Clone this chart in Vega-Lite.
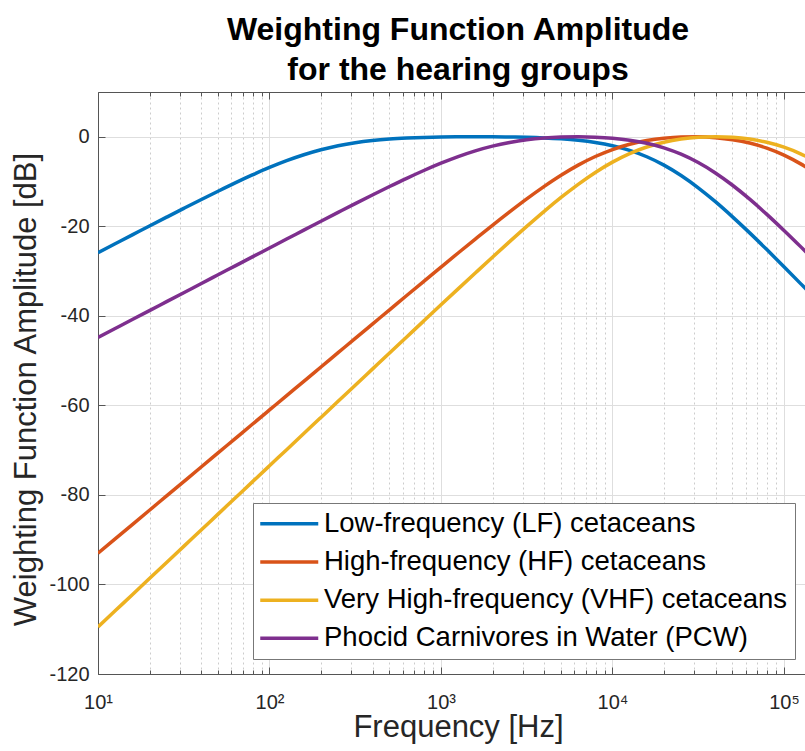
{
  "$schema": "https://vega.github.io/schema/vega-lite/v6.json",
  "width": 707,
  "height": 582,
  "autosize": {"type": "none"},
  "padding": {"left": 98, "top": 92, "right": 0, "bottom": 77},
  "background": "white",
  "title": {
    "text": ["Weighting Function Amplitude", "for the hearing groups"],
    "font": "Liberation Sans",
    "fontSize": 32,
    "fontWeight": "bold",
    "color": "#000000",
    "lineHeight": 40,
    "anchor": "middle",
    "frame": "group",
    "dx": 6.5,
    "dy": 33,
    "baseline": "bottom",
    "offset": 6
  },
  "data": {
    "values": [
      {"f": 10, "LF": -25.90, "HF": -93.02, "VHF": -109.49, "PCW": -44.83},
      {"f": 12.589, "LF": -23.91, "HF": -89.82, "VHF": -105.89, "PCW": -42.83},
      {"f": 15.849, "LF": -21.92, "HF": -86.62, "VHF": -102.29, "PCW": -40.83},
      {"f": 19.953, "LF": -19.93, "HF": -83.42, "VHF": -98.69, "PCW": -38.83},
      {"f": 25.119, "LF": -17.96, "HF": -80.22, "VHF": -95.09, "PCW": -36.83},
      {"f": 31.623, "LF": -16.00, "HF": -77.02, "VHF": -91.49, "PCW": -34.83},
      {"f": 39.811, "LF": -14.06, "HF": -73.82, "VHF": -87.89, "PCW": -32.83},
      {"f": 50.119, "LF": -12.16, "HF": -70.62, "VHF": -84.29, "PCW": -30.83},
      {"f": 63.096, "LF": -10.30, "HF": -67.42, "VHF": -80.69, "PCW": -28.83},
      {"f": 79.433, "LF": -8.53, "HF": -64.22, "VHF": -77.09, "PCW": -26.83},
      {"f": 100, "LF": -6.86, "HF": -61.02, "VHF": -73.49, "PCW": -24.84},
      {"f": 125.89, "LF": -5.34, "HF": -57.82, "VHF": -69.89, "PCW": -22.84},
      {"f": 158.49, "LF": -4.01, "HF": -54.63, "VHF": -66.29, "PCW": -20.86},
      {"f": 199.53, "LF": -2.89, "HF": -51.43, "VHF": -62.69, "PCW": -18.87},
      {"f": 251.19, "LF": -2.00, "HF": -48.23, "VHF": -59.09, "PCW": -16.90},
      {"f": 316.23, "LF": -1.33, "HF": -45.03, "VHF": -55.50, "PCW": -14.94},
      {"f": 398.11, "LF": -0.85, "HF": -41.84, "VHF": -51.90, "PCW": -13.01},
      {"f": 501.19, "LF": -0.52, "HF": -38.65, "VHF": -48.30, "PCW": -11.12},
      {"f": 630.96, "LF": -0.30, "HF": -35.46, "VHF": -44.71, "PCW": -9.28},
      {"f": 794.33, "LF": -0.15, "HF": -32.28, "VHF": -41.12, "PCW": -7.53},
      {"f": 1000, "LF": -0.06, "HF": -29.11, "VHF": -37.54, "PCW": -5.90},
      {"f": 1258.9, "LF": -0.02, "HF": -25.96, "VHF": -33.98, "PCW": -4.42},
      {"f": 1584.9, "LF": 0.00, "HF": -22.85, "VHF": -30.43, "PCW": -3.14},
      {"f": 1995.3, "LF": -0.01, "HF": -19.77, "VHF": -26.90, "PCW": -2.09},
      {"f": 2511.9, "LF": -0.05, "HF": -16.77, "VHF": -23.43, "PCW": -1.28},
      {"f": 3162.3, "LF": -0.12, "HF": -13.87, "VHF": -20.02, "PCW": -0.68},
      {"f": 3981.1, "LF": -0.25, "HF": -11.13, "VHF": -16.71, "PCW": -0.29},
      {"f": 5011.9, "LF": -0.46, "HF": -8.59, "VHF": -13.56, "PCW": -0.07},
      {"f": 6309.6, "LF": -0.78, "HF": -6.33, "VHF": -10.62, "PCW": 0.00},
      {"f": 7943.3, "LF": -1.27, "HF": -4.41, "VHF": -7.96, "PCW": -0.08},
      {"f": 10000, "LF": -2.00, "HF": -2.86, "VHF": -5.66, "PCW": -0.32},
      {"f": 12589, "LF": -3.03, "HF": -1.68, "VHF": -3.76, "PCW": -0.76},
      {"f": 15849, "LF": -4.46, "HF": -0.85, "VHF": -2.29, "PCW": -1.45},
      {"f": 19953, "LF": -6.33, "HF": -0.32, "VHF": -1.23, "PCW": -2.47},
      {"f": 25119, "LF": -8.65, "HF": -0.05, "VHF": -0.52, "PCW": -3.89},
      {"f": 31623, "LF": -11.40, "HF": -0.01, "VHF": -0.12, "PCW": -5.76},
      {"f": 39811, "LF": -14.50, "HF": -0.20, "VHF": 0.00, "PCW": -8.08},
      {"f": 50119, "LF": -17.89, "HF": -0.65, "VHF": -0.12, "PCW": -10.83},
      {"f": 63096, "LF": -21.47, "HF": -1.40, "VHF": -0.52, "PCW": -13.94},
      {"f": 79433, "LF": -25.20, "HF": -2.53, "VHF": -1.24, "PCW": -17.33},
      {"f": 100000, "LF": -29.03, "HF": -4.09, "VHF": -2.33, "PCW": -20.92},
      {"f": 125893, "LF": -32.92, "HF": -6.11, "VHF": -3.86, "PCW": -24.65},
      {"f": 158489, "LF": -36.84, "HF": -8.58, "VHF": -5.85, "PCW": -28.47}
    ]
  },
  "transform": [{"fold": ["LF", "HF", "VHF", "PCW"], "as": ["group", "w"]}],
  "layer": [
    {
      "mark": {"type": "line", "strokeWidth": 3.5, "clip": true, "interpolate": "monotone"},
      "encoding": {
        "x": {
          "field": "f",
          "type": "quantitative",
          "scale": {"type": "log", "domain": [10, 132600], "nice": false},
          "axis": {
            "orient": "bottom",
            "values": [10, 20, 30, 40, 50, 60, 70, 80, 90, 100, 200, 300, 400, 500, 600, 700, 800, 900, 1000, 2000, 3000, 4000, 5000, 6000, 7000, 8000, 9000, 10000, 20000, 30000, 40000, 50000, 60000, 70000, 80000, 90000, 100000],
            "labelExpr": "datum.value == 10 ? '10¹' : datum.value == 100 ? '10²' : datum.value == 1000 ? '10³' : datum.value == 10000 ? '10⁴' : datum.value == 100000 ? '10⁵' : ''",
            "labelFont": "Liberation Sans",
            "labelFontSize": 20,
            "labelColor": "#262626",
            "labelPadding": 25,
            "labelFlush": false,
            "labelOverlap": false,
            "labelBaseline": "top",
            "title": "Frequency [Hz]",
            "titleFont": "Liberation Sans",
            "titleFontSize": 31,
            "titleFontWeight": "normal",
            "titleColor": "#262626",
            "titleX": 360,
            "titleY": 62,
            "titleBaseline": "alphabetic",
            "domainColor": "#555555",
            "domainWidth": 1,
            "tickColor": "#555555",
            "tickSize": {"condition": {"test": "datum.value == 10 || datum.value == 100 || datum.value == 1000 || datum.value == 10000 || datum.value == 100000", "value": -7}, "value": -4},
            "grid": true,
            "gridColor": {"condition": {"test": "datum.value == 10 || datum.value == 100 || datum.value == 1000 || datum.value == 10000 || datum.value == 100000", "value": "#dedede"}, "value": "#cccccc"},
            "gridDash": {"condition": {"test": "datum.value == 10 || datum.value == 100 || datum.value == 1000 || datum.value == 10000 || datum.value == 100000", "value": []}, "value": [2, 3]},
            "gridWidth": 1
          }
        },
        "y": {
          "field": "w",
          "type": "quantitative",
          "scale": {"domain": [-120, 10], "nice": false, "zero": false},
          "axis": {
            "values": [-120, -100, -80, -60, -40, -20, 0],
            "labelExpr": "datum.value == 0 ? '0' : '-' + (-datum.value)",
            "labelFont": "Liberation Sans",
            "labelFontSize": 20,
            "labelColor": "#262626",
            "labelPadding": 16,
            "title": "Weighting Function Amplitude [dB]",
            "titleFont": "Liberation Sans",
            "titleFontSize": 31,
            "titleFontWeight": "normal",
            "titleColor": "#262626",
            "titleX": -63,
            "titleY": 297,
            "titleAngle": -90,
            "titleBaseline": "alphabetic",
            "domainColor": "#555555",
            "domainWidth": 1,
            "tickColor": "#555555",
            "tickSize": -7,
            "grid": true,
            "gridColor": "#dedede",
            "gridWidth": 1
          }
        },
        "color": {
          "field": "group",
          "type": "nominal",
          "scale": {"domain": ["LF", "HF", "VHF", "PCW"], "range": ["#0072BD", "#D95319", "#EDB120", "#7E2F8E"]},
          "legend": {
            "orient": "none",
            "legendX": 155,
            "legendY": 411,
            "direction": "vertical",
            "title": null,
            "labelExpr": "datum.label == 'LF' ? 'Low-frequency (LF) cetaceans' : datum.label == 'HF' ? 'High-frequency (HF) cetaceans' : datum.label == 'VHF' ? 'Very High-frequency (VHF) cetaceans   ' : 'Phocid Carnivores in Water (PCW)'",
            "labelFont": "Liberation Sans",
            "labelFontSize": 27.5,
            "labelColor": "#000000",
            "labelLimit": 0,
            "labelOffset": 21,
            "symbolType": "M-4,0H4",
            "symbolSize": 210.25,
            "symbolStrokeWidth": 3.5,
            "symbolOffset": 15.5,
            "strokeColor": "#777777",
            "fillColor": "#ffffff",
            "padding": 7,
            "rowPadding": 9.2
          }
        }
      }
    },
    {
      "mark": {"type": "line", "strokeOpacity": 0, "clip": true},
      "encoding": {
        "x": {
          "field": "f",
          "type": "quantitative",
          "axis": {
            "orient": "top",
            "values": [10, 20, 30, 40, 50, 60, 70, 80, 90, 100, 200, 300, 400, 500, 600, 700, 800, 900, 1000, 2000, 3000, 4000, 5000, 6000, 7000, 8000, 9000, 10000, 20000, 30000, 40000, 50000, 60000, 70000, 80000, 90000, 100000],
            "labels": false,
            "title": null,
            "grid": false,
            "domainColor": "#555555",
            "domainWidth": 1,
            "tickColor": "#555555",
            "tickSize": {"condition": {"test": "datum.value == 10 || datum.value == 100 || datum.value == 1000 || datum.value == 10000 || datum.value == 100000", "value": -7}, "value": -4}
          }
        },
        "y": {"field": "w", "type": "quantitative"},
        "detail": {"field": "group", "type": "nominal"}
      }
    }
  ],
  "resolve": {"axis": {"x": "independent"}},
  "config": {"view": {"stroke": null}}
}
